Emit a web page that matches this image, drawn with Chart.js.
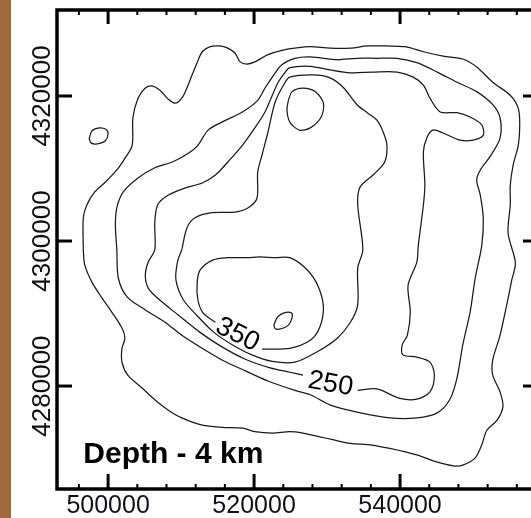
<!DOCTYPE html>
<html>
<head>
<meta charset="utf-8">
<script src="https://cdn.jsdelivr.net/npm/chart.js@4"></script>
<style>
  html, body { margin: 0; padding: 0; background: #fff; overflow: hidden; }
  #wrap { position: relative; width: 531px; height: 518px; overflow: hidden; }
  #strip { position: absolute; left: 0; top: 0; width: 11px; height: 518px; background: #9c6a3b; }
  canvas { position: absolute; left: 0; top: 0; }
</style>
</head>
<body>
<div id="wrap">
  <canvas id="map" width="545" height="518"></canvas>
  <div id="strip"></div>
</div>
<script>
// axis extents (km) and tick values (m)
const xRange = [493.0, 558.9];
const yRange = [4265.8, 4331.86];
const xTicks = [500000, 520000, 540000];
const yTicks = [4280000, 4300000, 4320000];

// contours, [easting km, northing km]
const contour150 = [
  [496.6,4298.8],[496.6,4303.2],[497.1,4305.0],[498.2,4306.8],[499.6,4308.1],[501.2,4309.8],
  [502.3,4311.4],[503.3,4313.2],[503.4,4317.0],[504.1,4319.7],[505.1,4321.1],[506.0,4321.4],
  [507.1,4320.8],[508.2,4319.6],[509.2,4319.0],[510.1,4319.7],[510.8,4321.1],[511.5,4322.9],
  [512.2,4324.6],[512.9,4326.1],[514.0,4326.8],[515.3,4326.9],[516.4,4326.6],[517.4,4325.9],
  [518.1,4324.7],[519.0,4324.4],[520.1,4324.7],[521.9,4325.7],[523.8,4326.3],[525.6,4326.6],
  [527.7,4326.8],[530.4,4326.6],[533.2,4326.6],[535.5,4326.9],[538.2,4326.9],[540.7,4326.8],
  [543.2,4326.1],[545.9,4325.5],[548.6,4325.1],[550.5,4324.0],[552.7,4321.9],[555.1,4320.1],
  [556.2,4318.3],[556.4,4316.0],[556.2,4313.2],[555.5,4310.5],[555.1,4307.7],[555.1,4305.0],
  [554.8,4301.1],[555.8,4297.0],[555.3,4294.6],[554.7,4291.6],[553.7,4287.0],[552.7,4283.6],
  [552.7,4281.5],[553.7,4279.2],[554.1,4277.2],[553.3,4275.3],[551.9,4273.9],[551.2,4271.9],
  [550.3,4270.1],[548.6,4269.1],[547.3,4269.0],[545.1,4269.5],[542.3,4270.5],[538.6,4271.4],
  [535.9,4271.9],[533.2,4272.1],[530.8,4272.6],[529.0,4273.0],[526.7,4273.5],[524.9,4273.7],
  [522.5,4273.5],[520.1,4273.7],[518.4,4274.2],[515.6,4274.3],[512.9,4274.6],[510.1,4275.6],
  [508.2,4276.7],[506.4,4278.1],[504.7,4279.7],[502.7,4281.5],[501.9,4283.3],[501.9,4285.2],
  [502.3,4286.6],[501.9,4288.0],[500.5,4290.2],[499.2,4292.1],[497.8,4294.3],[496.8,4296.7],
  [496.6,4298.8]
];
const loop150West = [
  [497.4,4314.1],[497.8,4315.2],[498.8,4315.6],[499.7,4315.4],[500.0,4314.8],[499.6,4313.8],
  [498.5,4313.4],[497.7,4313.5],[497.4,4314.1]
];
const contour200 = [
  [501.2,4298.8],[501.0,4302.2],[501.2,4304.6],[502.1,4306.8],[504.1,4308.7],[506.4,4310.1],
  [508.8,4310.9],[511.0,4312.1],[512.3,4313.2],[513.7,4315.3],[515.6,4316.4],[518.4,4317.8],
  [520.5,4319.4],[521.5,4321.1],[522.5,4322.6],[523.8,4324.3],[525.6,4325.2],[527.7,4325.4],
  [531.4,4325.0],[534.1,4325.2],[536.8,4325.2],[539.6,4325.2],[542.3,4324.6],[545.1,4323.3],
  [547.8,4321.9],[550.5,4320.6],[552.7,4318.8],[553.7,4317.0],[553.7,4314.2],[552.3,4311.6],
  [551.0,4309.8],[550.5,4308.4],[551.0,4306.3],[551.4,4303.2],[551.2,4299.4],[550.3,4294.9],
  [549.6,4290.2],[548.6,4285.7],[547.8,4281.1],[546.8,4278.1],[545.1,4276.3],[542.3,4275.6],
  [538.6,4275.6],[534.1,4276.4],[530.4,4277.4],[527.7,4278.8],[525.6,4279.4],[521.9,4280.7],
  [518.8,4282.1],[515.6,4283.6],[512.9,4285.2],[510.1,4287.0],[507.8,4288.8],[505.1,4290.5],
  [502.6,4292.3],[501.4,4294.9],[501.2,4298.8]
];
// 250 contour, open at its label
const contour250 = [
  [534.2,4279.4],[536.8,4279.6],[540.0,4278.3],[542.3,4278.2],[544.1,4279.2],[544.7,4281.5],
  [544.1,4283.3],[542.3,4284.0],[540.4,4284.3],[540.3,4285.7],[541.0,4287.0],[541.4,4290.2],
  [541.1,4293.9],[542.3,4297.1],[542.5,4299.4],[543.2,4305.0],[543.4,4307.7],[543.2,4312.3],
  [543.7,4314.3],[544.5,4315.3],[545.9,4314.9],[548.2,4313.9],[550.0,4313.9],[551.4,4314.6],
  [551.2,4316.0],[549.6,4317.1],[547.8,4317.7],[545.5,4317.8],[544.1,4319.7],[543.2,4321.5],
  [541.8,4322.6],[539.6,4323.3],[536.3,4323.3],[533.2,4323.2],[530.4,4323.6],[527.7,4324.1],
  [524.9,4323.9],[524.2,4323.2],[523.3,4321.9],[522.5,4320.1],[521.5,4317.8],[520.1,4315.6],
  [518.4,4313.2],[516.4,4310.9],[514.7,4309.1],[512.9,4308.0],[510.5,4307.3],[508.2,4306.3],
  [506.8,4305.0],[506.4,4302.6],[506.4,4298.8],[505.5,4297.1],[505.1,4295.3],[505.5,4293.5],
  [506.8,4292.1],[509.6,4289.8],[512.6,4287.4],[515.6,4285.4],[518.8,4283.7],[522.2,4282.5],
  [524.9,4281.9],[526.7,4281.5]
];
const contour300 = [
  [510.1,4298.8],[510.8,4301.8],[511.9,4303.2],[514.2,4303.9],[517.4,4304.0],[519.2,4304.6],
  [520.4,4305.9],[520.5,4309.5],[521.1,4311.9],[521.9,4315.0],[522.9,4319.2],[524.2,4321.8],
  [524.9,4322.6],[528.1,4322.9],[530.4,4322.5],[532.2,4321.2],[534.1,4318.8],[535.5,4317.7],
  [536.8,4316.7],[537.7,4315.0],[538.2,4313.2],[537.9,4310.9],[536.3,4309.1],[534.5,4307.4],
  [534.2,4305.0],[534.9,4298.8],[534.2,4296.3],[534.2,4291.2],[533.2,4288.8],[531.4,4286.6],
  [528.6,4284.7],[525.6,4283.3],[522.5,4283.4],[519.7,4284.3],[517.0,4285.7],[514.5,4287.4],
  [512.2,4289.7],[510.3,4291.9],[509.3,4294.6],[509.5,4297.1],[510.1,4298.8]
];
// 350 contour, open at its label
const contour350 = [
  [521.1,4285.1],[524.9,4285.2],[527.7,4286.3],[529.0,4288.1],[529.5,4290.9],[528.8,4293.7],
  [527.3,4296.0],[524.9,4297.7],[522.9,4297.7],[520.8,4297.8],[519.0,4297.7],[516.4,4297.7],
  [514.4,4297.4],[512.6,4296.0],[512.2,4294.2],[512.3,4291.9],[513.0,4290.1],[514.7,4288.8]
];
const loop350North = [
  [524.7,4319.4],[525.2,4320.6],[526.7,4321.1],[528.4,4320.6],[529.5,4319.0],[529.2,4317.1],
  [527.7,4315.6],[526.2,4315.3],[524.9,4316.4],[524.5,4318.1],[524.7,4319.4]
];
const loop400 = [
  [522.7,4288.4],[523.2,4289.5],[524.1,4290.1],[525.1,4290.1],[525.2,4289.4],[524.7,4288.4],
  [523.7,4287.9],[522.9,4287.9],[522.7,4288.4]
];

// contour labels
const labelText = ['350', '250'];
const labelPos = [[517.8, 4287.2], [530.5, 4280.4]];
const labelAngle = [27, 10];
const title = 'Depth - 4 km';
const titlePos = [496.6, 4269.4];

const lines = [contour150, loop150West, contour200, contour250, contour300, contour350, loop350North, loop400];

const datasets = lines.map(pts => ({
  data: pts.map(p => ({ x: p[0] * 1000, y: p[1] * 1000 })),
  showLine: true,
  borderColor: '#1a1a1a',
  borderWidth: 1.25,
  pointRadius: 0,
  tension: 0.3,
  fill: false
}));

function seg(ctx, x1, y1, x2, y2) {
  ctx.beginPath(); ctx.moveTo(x1, y1); ctx.lineTo(x2, y2); ctx.stroke();
}

const framePlugin = {
  id: 'framePlugin',
  afterDatasetsDraw(chart) {
    const { ctx, chartArea: a, scales: { x, y } } = chart;
    ctx.save();
    ctx.strokeStyle = '#000';
    ctx.lineCap = 'butt';

    // minor ticks on x
    ctx.lineWidth = 2;
    for (let v = 496000; v <= 556000; v += 4000) {
      if (v % 20000 === 0) continue;
      const px = x.getPixelForValue(v);
      seg(ctx, px, a.top, px, a.top + 5);
      seg(ctx, px, a.bottom, px, a.bottom - 5);
    }
    // major ticks
    ctx.lineWidth = 3;
    xTicks.forEach(v => {
      const px = x.getPixelForValue(v);
      seg(ctx, px, a.top, px, a.top + 14);
      seg(ctx, px, a.bottom, px, a.bottom - 15);
    });
    yTicks.forEach(v => {
      const py = y.getPixelForValue(v);
      seg(ctx, a.left, py, a.left + 15, py);
      seg(ctx, a.right, py, a.right - 15, py);
    });
    ctx.lineWidth = 3.5;
    ctx.strokeRect(a.left, a.top, a.right - a.left, a.bottom - a.top);

    // tick labels
    ctx.fillStyle = '#101018';
    ctx.textAlign = 'center';
    ctx.textBaseline = 'alphabetic';
    ctx.font = '25px "Liberation Sans", Arial, sans-serif';
    xTicks.forEach(v => ctx.fillText(String(v), x.getPixelForValue(v), a.bottom + 24));
    ctx.font = '26px "Liberation Sans", Arial, sans-serif';
    yTicks.forEach(v => {
      ctx.save();
      ctx.translate(a.left - 7, y.getPixelForValue(v));
      ctx.rotate(-Math.PI / 2);
      ctx.fillText(String(v), 0, 0);
      ctx.restore();
    });

    // contour labels
    ctx.fillStyle = '#000';
    ctx.font = '27px "Liberation Sans", Arial, sans-serif';
    ctx.textBaseline = 'middle';
    labelText.forEach((t, i) => {
      ctx.save();
      ctx.translate(x.getPixelForValue(labelPos[i][0] * 1000), y.getPixelForValue(labelPos[i][1] * 1000));
      ctx.rotate(labelAngle[i] * Math.PI / 180);
      ctx.fillText(t, 0, 1);
      ctx.restore();
    });

    // title
    ctx.font = 'bold 30px "Liberation Sans", Arial, sans-serif';
    ctx.textAlign = 'left';
    ctx.textBaseline = 'alphabetic';
    ctx.fillText(title, x.getPixelForValue(titlePos[0] * 1000), y.getPixelForValue(titlePos[1] * 1000));
    ctx.restore();
  }
};

new Chart(document.getElementById('map'), {
  type: 'scatter',
  data: { datasets },
  options: {
    responsive: false,
    animation: false,
    events: [],
    layout: { padding: { left: 57, top: 10, right: 7, bottom: 29 } },
    plugins: { legend: { display: false }, tooltip: { enabled: false } },
    scales: {
      x: { type: 'linear', display: false, min: xRange[0] * 1000, max: xRange[1] * 1000 },
      y: { type: 'linear', display: false, min: yRange[0] * 1000, max: yRange[1] * 1000 }
    }
  },
  plugins: [framePlugin]
});
</script>
</body>
</html>
